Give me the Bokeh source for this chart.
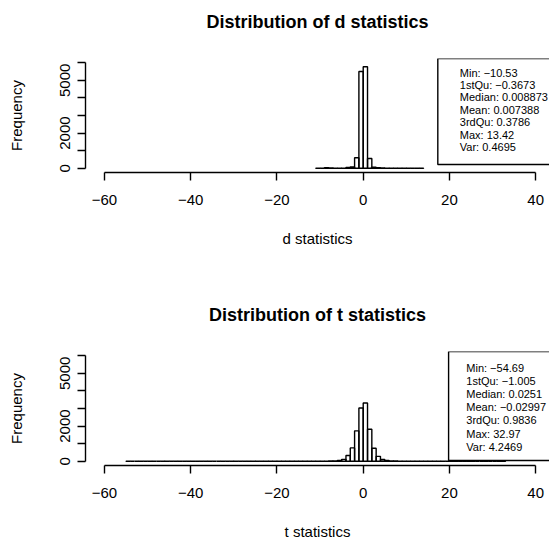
from bokeh.plotting import figure
from bokeh.layouts import column
from bokeh.models import Range1d, FixedTicker, Label, BoxAnnotation, ColumnDataSource, Title
from bokeh.embed import file_html
from bokeh.resources import INLINE

FONT = "Liberation Sans"
MINUS = "\u2212"

# ---- data -------------------------------------------------------------
x_ticks = [-60, -40, -20, 0, 20, 40]
y_ticks = [0, 1000, 2000, 3000, 4000, 5000, 6000]
y_tick_labels = {0: "0", 1000: "", 2000: "2000", 3000: "", 4000: "", 5000: "5000", 6000: ""}

# d statistics: bins of width 1 from -11 to 14
d_breaks = list(range(-11, 15))
d_counts = [1, 0, 30, 25, 3, 4, 10, 45, 70, 600, 5500, 5770, 560,
            60, 30, 20, 10, 5, 3, 2, 1, 1, 0, 0, 1]
d_summary = ["Min: " + MINUS + "10.53", "1stQu: " + MINUS + "0.3673", "Median: 0.008873",
             "Mean: 0.007388", "3rdQu: 0.3786", "Max: 13.42", "Var: 0.4695"]

# t statistics: bins of width 1 from -55 to 33
t_breaks = list(range(-55, 34))
t_counts = [1, 0, 0, 1, 0, 1, 0, 0, 2, 1,
            0, 1, 0, 0, 1, 0, 0, 1, 0, 1,
            0, 0, 1, 0, 1, 1, 0, 1, 0, 1,
            1, 0, 2, 1, 1, 2, 1, 2, 2, 3,
            2, 3, 4, 4, 5, 6,
            8, 15, 25, 50, 110, 330, 760, 1730, 3030, 3310,
            1820, 740, 280, 100, 45, 25, 15, 9, 6, 5,
            3, 3, 2, 2, 1, 2, 1, 1, 0, 1,
            1, 0, 1, 0, 1, 0, 0, 1, 0, 0,
            0, 1]
t_summary = ["Min: " + MINUS + "54.69", "1stQu: " + MINUS + "1.005", "Median: 0.0251",
             "Mean: " + MINUS + "0.02997", "3rdQu: 0.9836", "Max: 32.97", "Var: 4.2469"]


def make_hist(title, xlabel, breaks, counts, summary, box_left, box_bottom,
              text_x, text_top, text_step, border_bottom):
    p = figure(title=None, frame_width=464, frame_height=114,
               min_border_left=85, min_border_right=0, min_border_top=58,
               min_border_bottom=border_bottom,
               x_range=Range1d(-64.4, 43.2), y_range=Range1d(-240, 6240),
               output_backend="svg", toolbar_location=None)
    p.outline_line_color = None
    p.grid.visible = False
    p.background_fill_color = "white"
    p.border_fill_color = "white"

    # spacer between plot region and title (R puts the title ~2 lines above)
    p.add_layout(Title(text=" ", text_font=FONT, text_font_size="18px", standoff=5), "above")
    p.add_layout(Title(text=title, align="center", text_font=FONT, text_font_size="18px",
                       text_font_style="bold", text_color="black", standoff=0), "above")

    src = ColumnDataSource(dict(left=breaks[:-1], right=breaks[1:],
                                top=counts, bottom=[0] * len(counts)))
    p.quad(left="left", right="right", top="top", bottom="bottom", source=src,
           fill_color="white", fill_alpha=0.0, line_color="black", line_width=1.4)

    # summary box
    p.add_layout(BoxAnnotation(left=box_left, right=60, top=6240, bottom=box_bottom,
                               fill_color="white", fill_alpha=1.0,
                               line_color="black", line_alpha=1.0, line_width=1.4))
    for i, s in enumerate(summary):
        p.add_layout(Label(x=text_x, y=text_top - i * text_step, text=s,
                           text_font=FONT, text_font_size="11px",
                           text_color="black", text_baseline="middle",
                           text_align="left"))

    xa = p.xaxis[0]
    xa.ticker = FixedTicker(ticks=x_ticks)
    xa.bounds = (x_ticks[0], x_ticks[-1])
    xa.major_label_overrides = {t: (MINUS + str(-t) if t < 0 else str(t)) for t in x_ticks}
    xa.minor_tick_line_color = None
    xa.major_tick_in = 0
    xa.major_tick_out = 8
    xa.major_label_standoff = 14
    xa.axis_label = xlabel
    xa.axis_label_standoff = 22

    ya = p.yaxis[0]
    ya.ticker = FixedTicker(ticks=y_ticks)
    ya.bounds = (y_ticks[0], y_ticks[-1])
    ya.major_label_overrides = y_tick_labels
    ya.major_label_orientation = "vertical"
    ya.minor_tick_line_color = None
    ya.major_tick_in = 0
    ya.major_tick_out = 8
    ya.major_label_standoff = 7
    ya.axis_label = "Frequency"
    ya.axis_label_standoff = 33

    for ax in (xa, ya):
        ax.axis_line_color = "black"
        ax.axis_line_width = 1.4
        ax.major_tick_line_color = "black"
        ax.major_tick_line_width = 1.4
        ax.major_label_text_font = FONT
        ax.major_label_text_font_size = "15px"
        ax.major_label_text_color = "black"
        ax.axis_label_text_font = FONT
        ax.axis_label_text_font_size = "15px"
        ax.axis_label_text_font_style = "normal"
        ax.axis_label_text_color = "black"
    return p


p1 = make_hist("Distribution of d statistics", "d statistics", d_breaks, d_counts, d_summary,
               box_left=17.3, box_bottom=215, text_x=22.4, text_top=5444, text_step=710,
               border_bottom=121)
p2 = make_hist("Distribution of t statistics", "t statistics", t_breaks, t_counts, t_summary,
               box_left=19.8, box_bottom=44, text_x=23.9, text_top=5326, text_step=750,
               border_bottom=80)

layout = column(p1, p2, spacing=0)
open("out.html", "w").write(file_html(layout, INLINE))
